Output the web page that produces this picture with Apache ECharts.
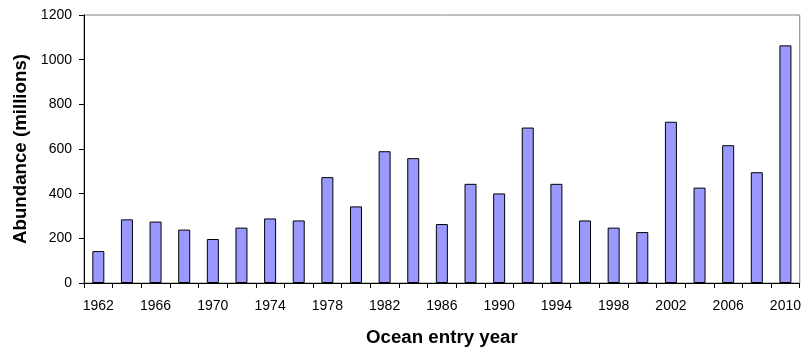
<!DOCTYPE html>
<html>
<head>
<meta charset="utf-8">
<script src="https://cdn.jsdelivr.net/npm/echarts@6/dist/echarts.min.js"></script>
<style>html,body{margin:0;padding:0;background:#fff;}#c{width:804px;height:352px;}</style>
</head>
<body>
<div id="c"></div>
<script>
const years = ['1962','1964','1966','1968','1970','1972','1974','1976','1978','1980','1982','1984','1986','1988','1990','1992','1994','1996','1998','2000','2002','2004','2006','2008','2010'];
const abundance = [143,285,275,239,197,248,289,280,474,343,590,559,264,444,401,696,444,280,248,228,722,427,617,496,1064];
const yTicks = [0,200,400,600,800,1000,1200];

const chart = echarts.init(document.getElementById('c'), null, {renderer:'canvas'});
chart.setOption({
  animation:false,
  backgroundColor:'#ffffff',
  grid:{left:84,right:4,top:15,bottom:68,show:true,borderColor:'#808080',borderWidth:1,backgroundColor:'transparent'},
  xAxis:{
    type:'category', data:years, boundaryGap:true,
    name:'Ocean entry year', nameLocation:'middle', nameGap:45,
    nameTextStyle:{fontFamily:'Liberation Sans, Arial',fontSize:18.7,fontWeight:'bold',color:'#000'},
    axisLine:{lineStyle:{color:'#000',width:1}},
    axisTick:{show:true,interval:0,length:5,lineStyle:{color:'#000'}},
    axisLabel:{interval:1,margin:16,fontFamily:'Liberation Sans, Arial',fontSize:14,color:'#000'},
    splitLine:{show:false}
  },
  yAxis:{
    type:'value', min:yTicks[0], max:yTicks[yTicks.length-1], interval:200,
    name:'Abundance (millions)', nameLocation:'middle', nameGap:54,
    nameTextStyle:{fontFamily:'Liberation Sans, Arial',fontSize:18.7,fontWeight:'bold',color:'#000'},
    axisLine:{show:true,lineStyle:{color:'#000',width:1}},
    axisTick:{show:true,length:5,lineStyle:{color:'#000'}},
    axisLabel:{margin:12,fontFamily:'Liberation Sans, Arial',fontSize:14,color:'#000',formatter:function(v){return String(v);}},
    splitLine:{show:false}
  },
  series:[{
    type:'bar', data:abundance, barWidth:12,
    itemStyle:{color:'#9999FF',borderColor:'#000',borderWidth:1}
  }]
});
</script>
</body>
</html>
